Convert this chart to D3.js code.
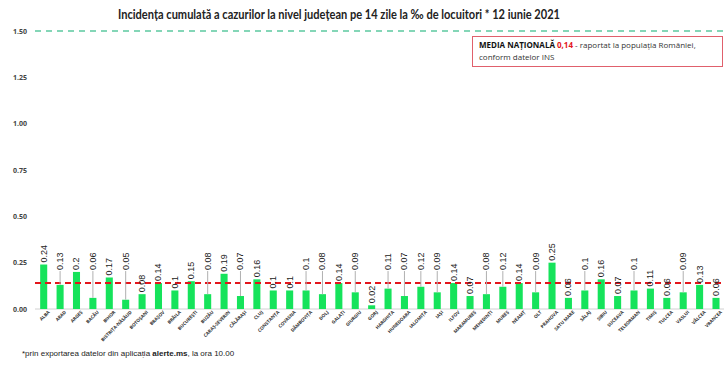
<!DOCTYPE html>
<html>
<head>
<meta charset="utf-8">
<script src="https://cdn.jsdelivr.net/npm/d3@7"></script>
<style>
  body { margin: 0; background: #fff; }
  svg { display: block; }
</style>
</head>
<body>
<div id="chart"></div>
<script>
// judetele, in ordinea din grafic
var counties = ["ALBA", "ARAD", "ARGEȘ", "BACĂU", "BIHOR", "BISTRIȚA-NĂSĂUD", "BOTOȘANI", "BRAȘOV", "BRĂILA",
  "BUCUREȘTI", "BUZĂU", "CARAȘ-SEVERIN", "CĂLĂRAȘI", "CLUJ", "CONSTANȚA", "COVASNA", "DÂMBOVIȚA", "DOLJ",
  "GALAȚI", "GIURGIU", "GORJ", "HARGHITA", "HUNEDOARA", "IALOMIȚA", "IAȘI", "ILFOV", "MARAMUREȘ",
  "MEHEDINȚI", "MUREȘ", "NEAMȚ", "OLT", "PRAHOVA", "SATU MARE", "SĂLAJ", "SIBIU", "SUCEAVA", "TELEORMAN",
  "TIMIȘ", "TULCEA", "VASLUI", "VÂLCEA", "VRANCEA"];

// incidenta la mia de locuitori
var incidence = [0.24, 0.13, 0.2, 0.06, 0.17, 0.05, 0.08, 0.14, 0.1, 0.15, 0.08, 0.19, 0.07, 0.16, 0.1, 0.1,
  0.1, 0.08, 0.14, 0.09, 0.02, 0.11, 0.07, 0.12, 0.09, 0.14, 0.07, 0.08, 0.12, 0.14, 0.09, 0.25, 0.06, 0.1,
  0.16, 0.07, 0.1, 0.11, 0.06, 0.09, 0.13, 0.06];

// etichetele mutate mai sus (cu linie de legatura)
var liftedLabels = ["ARAD", "BACĂU", "BISTRIȚA-NĂSĂUD", "BUZĂU", "CĂLĂRAȘI", "DÂMBOVIȚA", "DOLJ", "GIURGIU",
  "HARGHITA", "HUNEDOARA", "IALOMIȚA", "IAȘI", "MEHEDINȚI", "MUREȘ", "OLT", "SĂLAJ", "TELEORMAN", "VASLUI"];

var yTicks = [0, 0.25, 0.5, 0.75, 1, 1.25, 1.5];
var nationalMean = 0.14;
var threshold = 1.5;

var data = counties.map(function(c, i) { return {name: c, value: incidence[i]}; });

var svgWidth = 727, svgHeight = 373;
var svg = d3.select("#chart").append("svg").attr("width", svgWidth).attr("height", svgHeight);

var x = d3.scaleBand()
  .domain(counties)
  .range([35.5, 724.2])
  .paddingInner(0.57)
  .paddingOuter(0.285);
var y = d3.scaleLinear().domain([0, 1.5]).range([309, 31]);

// titlu
svg.append("text")
  .attr("x", 118).attr("y", 19)
  .attr("textLength", 442).attr("lengthAdjust", "spacingAndGlyphs")
  .style("font-family", "Lato, 'Open Sans', sans-serif")
  .style("font-weight", "bold").style("font-size", "13px").style("fill", "#222")
  .text("Incidența cumulată a cazurilor la nivel județean pe 14 zile la ‰ de locuitori *  12 iunie 2021");

// axa Y (doar etichete)
var yAxis = svg.append("g")
  .attr("transform", "translate(30,0)")
  .call(d3.axisLeft(y).tickValues(yTicks).tickFormat(d3.format(".2f")).tickSize(0));
yAxis.select(".domain").remove();
yAxis.selectAll("text")
  .style("font-family", "'Open Sans', sans-serif").style("font-size", "7px")
  .style("font-weight", "bold").style("fill", "#444");

// linia de baza
svg.append("line")
  .attr("x1", 35).attr("x2", 724).attr("y1", y(0)).attr("y2", y(0))
  .attr("stroke", "#d0d0d0").attr("stroke-width", 1);

// pragul 1.50
svg.append("line")
  .attr("x1", 35).attr("x2", 727).attr("y1", y(threshold)).attr("y2", y(threshold))
  .attr("stroke", "#5cc9a0").attr("stroke-width", 1.5).attr("stroke-dasharray", "6,5");

// axa X
var xAxis = svg.append("g")
  .attr("transform", `translate(0, ${y(0)})`)
  .call(d3.axisBottom(x).tickSize(0).tickPadding(4));
xAxis.select(".domain").remove();
xAxis.selectAll("text")
  .attr("text-anchor", "end")
  .attr("dx", "2").attr("dy", "3")
  .attr("transform", "rotate(-45)")
  .style("font-family", "'Open Sans', sans-serif").style("font-size", "4.6px")
  .style("font-weight", "bold").style("fill", "#333");

// bare
svg.selectAll("rect.bar")
  .data(data)
  .enter()
  .append("rect")
  .attr("class", "bar")
  .attr("x", d => x(d.name))
  .attr("width", x.bandwidth())
  .attr("y", d => y(d.value))
  .attr("height", d => y(0) - y(d.value))
  .attr("fill", "#16e35b");

// media nationala
svg.append("line")
  .attr("x1", 35).attr("x2", 722).attr("y1", y(nationalMean)).attr("y2", y(nationalMean))
  .attr("stroke", "#e3161c").attr("stroke-width", 2).attr("stroke-dasharray", "6,4");

// pozitia etichetelor
function labelBase(d) {
  if (liftedLabels.indexOf(d.name) >= 0) return y(nationalMean) - 13;
  return y(d.value) - 2;
}

// linii de legatura
svg.selectAll("line.leader")
  .data(data.filter(d => liftedLabels.indexOf(d.name) >= 0))
  .enter()
  .append("line")
  .attr("class", "leader")
  .attr("x1", d => x(d.name) + x.bandwidth() / 2)
  .attr("x2", d => x(d.name) + x.bandwidth() / 2)
  .attr("y1", d => labelBase(d) + 1)
  .attr("y2", d => y(d.value))
  .attr("stroke", "#b0b0b0").attr("stroke-width", 1);

// etichete valori
svg.selectAll("text.val")
  .data(data)
  .enter()
  .append("text")
  .attr("class", "val")
  .attr("transform", d => `translate(${x(d.name) + x.bandwidth() / 2 + 3}, ${labelBase(d)}) rotate(-90)`)
  .style("font-family", "'Liberation Sans', Arial, sans-serif").style("font-size", "9px")
  .style("fill", "#222")
  .text(d => String(d.value));

// caseta media nationala
svg.append("rect")
  .attr("x", 472.5).attr("y", 36.5).attr("width", 250).attr("height", 30)
  .attr("fill", "#fff").attr("stroke", "#e0606c").attr("stroke-width", 1);
var box = svg.append("text")
  .attr("x", 479).attr("y", 48)
  .style("font-family", "'Open Sans', sans-serif").style("font-size", "8px").style("fill", "#333");
box.append("tspan").style("font-weight", "bold").style("fill", "#111").text("MEDIA NAȚIONALĂ ");
box.append("tspan").style("font-weight", "bold").style("fill", "#e3161c").text(String(nationalMean).replace(".", ","));
box.append("tspan").text(" - raportat la populația României,");
svg.append("text")
  .attr("x", 479).attr("y", 60)
  .style("font-family", "'Open Sans', sans-serif").style("font-size", "8px").style("fill", "#333")
  .text("conform datelor INS");

// nota de subsol
var foot = svg.append("text")
  .attr("x", 22).attr("y", 356)
  .style("font-family", "'Liberation Sans', Arial, sans-serif").style("font-size", "8px").style("fill", "#222");
foot.append("tspan").text("*prin exportarea datelor din aplicația ");
foot.append("tspan").style("font-weight", "bold").text("alerte.ms");
foot.append("tspan").text(", la ora 10.00");
</script>
</body>
</html>
